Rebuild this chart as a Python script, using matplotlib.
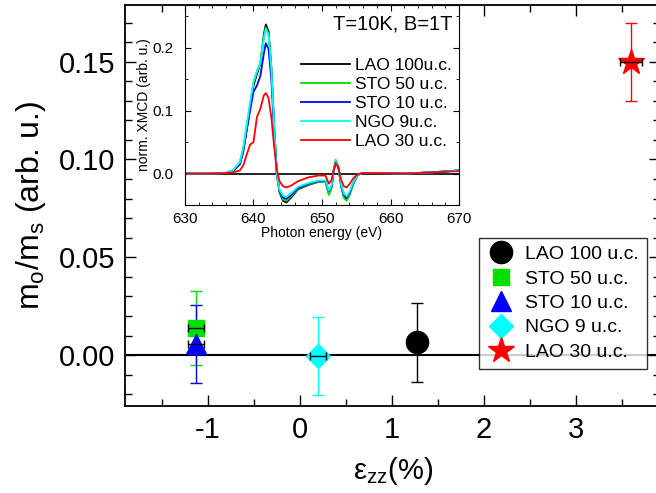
import matplotlib.pyplot as plt
from matplotlib.ticker import MultipleLocator

plt.rcParams['font.family'] = ['Liberation Sans', 'DejaVu Sans']
plt.rcParams['mathtext.fontset'] = 'custom'
plt.rcParams['mathtext.rm'] = 'Liberation Sans'
plt.rcParams['mathtext.it'] = 'Liberation Sans'
plt.rcParams['axes.unicode_minus'] = False

# main panel data: strain eps_zz (%), orbital/spin moment ratio
samples = ['LAO 100 u.c.', 'STO 50 u.c.', 'STO 10 u.c.', 'NGO 9 u.c.', 'LAO 30 u.c.']
eps_zz = [1.27, -1.13, -1.13, 0.20, 3.60]
eps_err = [0.10, 0.09, 0.09, 0.09, 0.12]
ratio = [0.0065, 0.014, 0.0055, -0.0005, 0.150]
ratio_err = [0.020, 0.019, 0.020, 0.020, 0.020]
colors = ['black', '#00e000', '#0000ff', '#00ffff', '#ff0000']
markers = ['o', 's', '^', 'D', '*']
msizes = [16, 12, 15, 12, 19]

# inset data: normalized XMCD spectra
energy = [630, 634, 636, 637, 638, 638.5, 639, 639.5, 640, 640.5, 641, 641.5, 641.8,
          642.2, 642.6, 643, 643.4, 643.8, 644.3, 644.8, 645.5, 646.5, 648, 649.5,
          650.5, 651, 651.4, 651.7, 652, 652.4, 652.8, 653.2, 653.6, 654, 654.6,
          655.2, 656, 658, 662, 666, 670]
lao100 = [0, 0, 0.001, 0.004, 0.015, 0.035, 0.07, 0.105, 0.14, 0.158, 0.175, 0.22, 0.237,
          0.226, 0.17, 0.08, 0.0, -0.03, -0.043, -0.046, -0.038, -0.025, -0.018, -0.013,
          -0.012, -0.031, -0.022, 0.004, 0.019, 0.01, -0.02, -0.037, -0.040, -0.033, -0.015,
          -0.002, 0.001, 0.001, 0.0, 0.002, 0.005]
sto50 = [0, 0, 0.001, 0.005, 0.018, 0.04, 0.075, 0.11, 0.145, 0.162, 0.175, 0.215, 0.232,
         0.222, 0.168, 0.08, 0.0, -0.029, -0.041, -0.043, -0.036, -0.024, -0.017, -0.013,
         -0.013, -0.034, -0.024, 0.005, 0.022, 0.011, -0.021, -0.039, -0.043, -0.035, -0.016,
         -0.002, 0.001, 0.001, 0.0, 0.002, 0.005]
sto10 = [0, 0, 0.001, 0.004, 0.015, 0.035, 0.068, 0.1, 0.13, 0.14, 0.155, 0.19, 0.207,
         0.198, 0.15, 0.07, 0.0, -0.027, -0.038, -0.040, -0.034, -0.023, -0.016, -0.012,
         -0.012, -0.028, -0.02, 0.004, 0.019, 0.01, -0.018, -0.034, -0.038, -0.031, -0.014,
         -0.002, 0.001, 0.001, 0.0, 0.002, 0.005]
ngo9 = [0, 0, 0.001, 0.005, 0.018, 0.04, 0.076, 0.112, 0.146, 0.163, 0.176, 0.214, 0.230,
        0.22, 0.166, 0.079, 0.0, -0.026, -0.035, -0.037, -0.031, -0.021, -0.015, -0.011,
        -0.011, -0.027, -0.019, 0.005, 0.02, 0.01, -0.017, -0.032, -0.036, -0.029, -0.013,
        -0.002, 0.001, 0.001, 0.0, 0.002, 0.005]
lao30 = [0, 0, 0.001, 0.002, 0.005, 0.013, 0.03, 0.046, 0.05, 0.09, 0.103, 0.124, 0.128,
         0.12, 0.09, 0.045, 0.006, -0.012, -0.02, -0.022, -0.019, -0.012, -0.006, -0.003,
         -0.003, -0.016, -0.01, 0.005, 0.017, 0.009, -0.01, -0.02, -0.022, -0.017, -0.007,
         -0.001, 0.001, 0.001, 0.0, 0.002, 0.004]
spectra = [lao100, sto50, sto10, ngo9, lao30]
spec_labels = ['LAO 100u.c.', 'STO 50 u.c.', 'STO 10 u.c.', 'NGO 9u.c.', 'LAO 30 u.c.']

fig = plt.figure(figsize=(6.56, 4.93), dpi=100)
ax = fig.add_axes([0.1905, 0.1765, 0.816, 0.8135])

ax.axhline(0, color='black', lw=1.5, zorder=1)
for i in range(len(samples)):
    ax.errorbar(eps_zz[i], ratio[i], yerr=ratio_err[i], fmt='none', ecolor=colors[i],
                elinewidth=1, capsize=4, capthick=1, zorder=2)
    ax.errorbar(eps_zz[i], ratio[i], xerr=eps_err[i], fmt='none', ecolor='black',
                elinewidth=1, capsize=3, capthick=1, zorder=4)
    ax.plot(eps_zz[i], ratio[i], ls='none', marker=markers[i], ms=msizes[i],
            color=colors[i], mec=colors[i], label=samples[i], zorder=3)

ax.set_xlim(-1.9, 3.92)
ax.set_ylim(-0.026, 0.179)
ax.xaxis.set_major_locator(MultipleLocator(1))
ax.xaxis.set_minor_locator(MultipleLocator(0.5))
ax.yaxis.set_major_locator(MultipleLocator(0.05))
ax.yaxis.set_minor_locator(MultipleLocator(0.01))
ax.yaxis.set_major_formatter(plt.FormatStrFormatter('%.2f'))
ax.tick_params(which='both', direction='in', top=True, right=True, labelsize=21, width=1, pad=7)
ax.tick_params(which='major', length=8)
ax.tick_params(which='minor', length=5)
for s in ax.spines.values():
    s.set_linewidth(1.3)
ax.set_xlabel('ε$_\\mathregular{zz}$(%)', fontsize=21, labelpad=8)
ax.set_ylabel('m$_\\mathregular{o}$/m$_\\mathregular{s}$ (arb. u.)', fontsize=23, labelpad=8)

leg = ax.legend(loc='upper left', bbox_to_anchor=(469 / 656, 1 - 228 / 493),
                bbox_transform=fig.transFigure, fontsize=14, frameon=True,
                fancybox=False, edgecolor='black', handletextpad=0.5,
                borderpad=0.4, labelspacing=0.35, handlelength=1.5)
leg.get_frame().set_linewidth(1)

# inset
ins = fig.add_axes([0.282, 0.584, 0.4177, 0.406])
ins.axhline(0, color='black', lw=1.2)
for y, c, lab in zip(spectra, colors, spec_labels):
    ins.plot(energy, y, color=c, lw=1.3, label=lab)
ins.set_xlim(630, 670)
ins.set_ylim(-0.05, 0.268)
ins.xaxis.set_major_locator(MultipleLocator(10))
ins.xaxis.set_minor_locator(MultipleLocator(2))
ins.yaxis.set_major_locator(MultipleLocator(0.1))
ins.yaxis.set_minor_locator(MultipleLocator(0.05))
ins.tick_params(which='both', direction='in', top=True, right=True, labelsize=11)
ins.tick_params(axis='y', pad=8)
ins.tick_params(axis='x', pad=5)
ins.tick_params(which='major', length=4)
ins.tick_params(which='minor', length=2.5)
ins.set_xlabel('Photon energy (eV)', fontsize=10, labelpad=0)
ins.set_ylabel('norm. XMCD (arb. u.)', fontsize=10, labelpad=1)
ins.text(0.975, 0.95, 'T=10K, B=1T', transform=ins.transAxes, ha='right', va='top', fontsize=14.5)
ins.legend(loc='upper right', bbox_to_anchor=(1.0, 0.77), frameon=False, fontsize=12.5,
           handlelength=2.8, handletextpad=0.3, labelspacing=0.22, borderaxespad=0.0)

fig.savefig('out.png', dpi=100)
